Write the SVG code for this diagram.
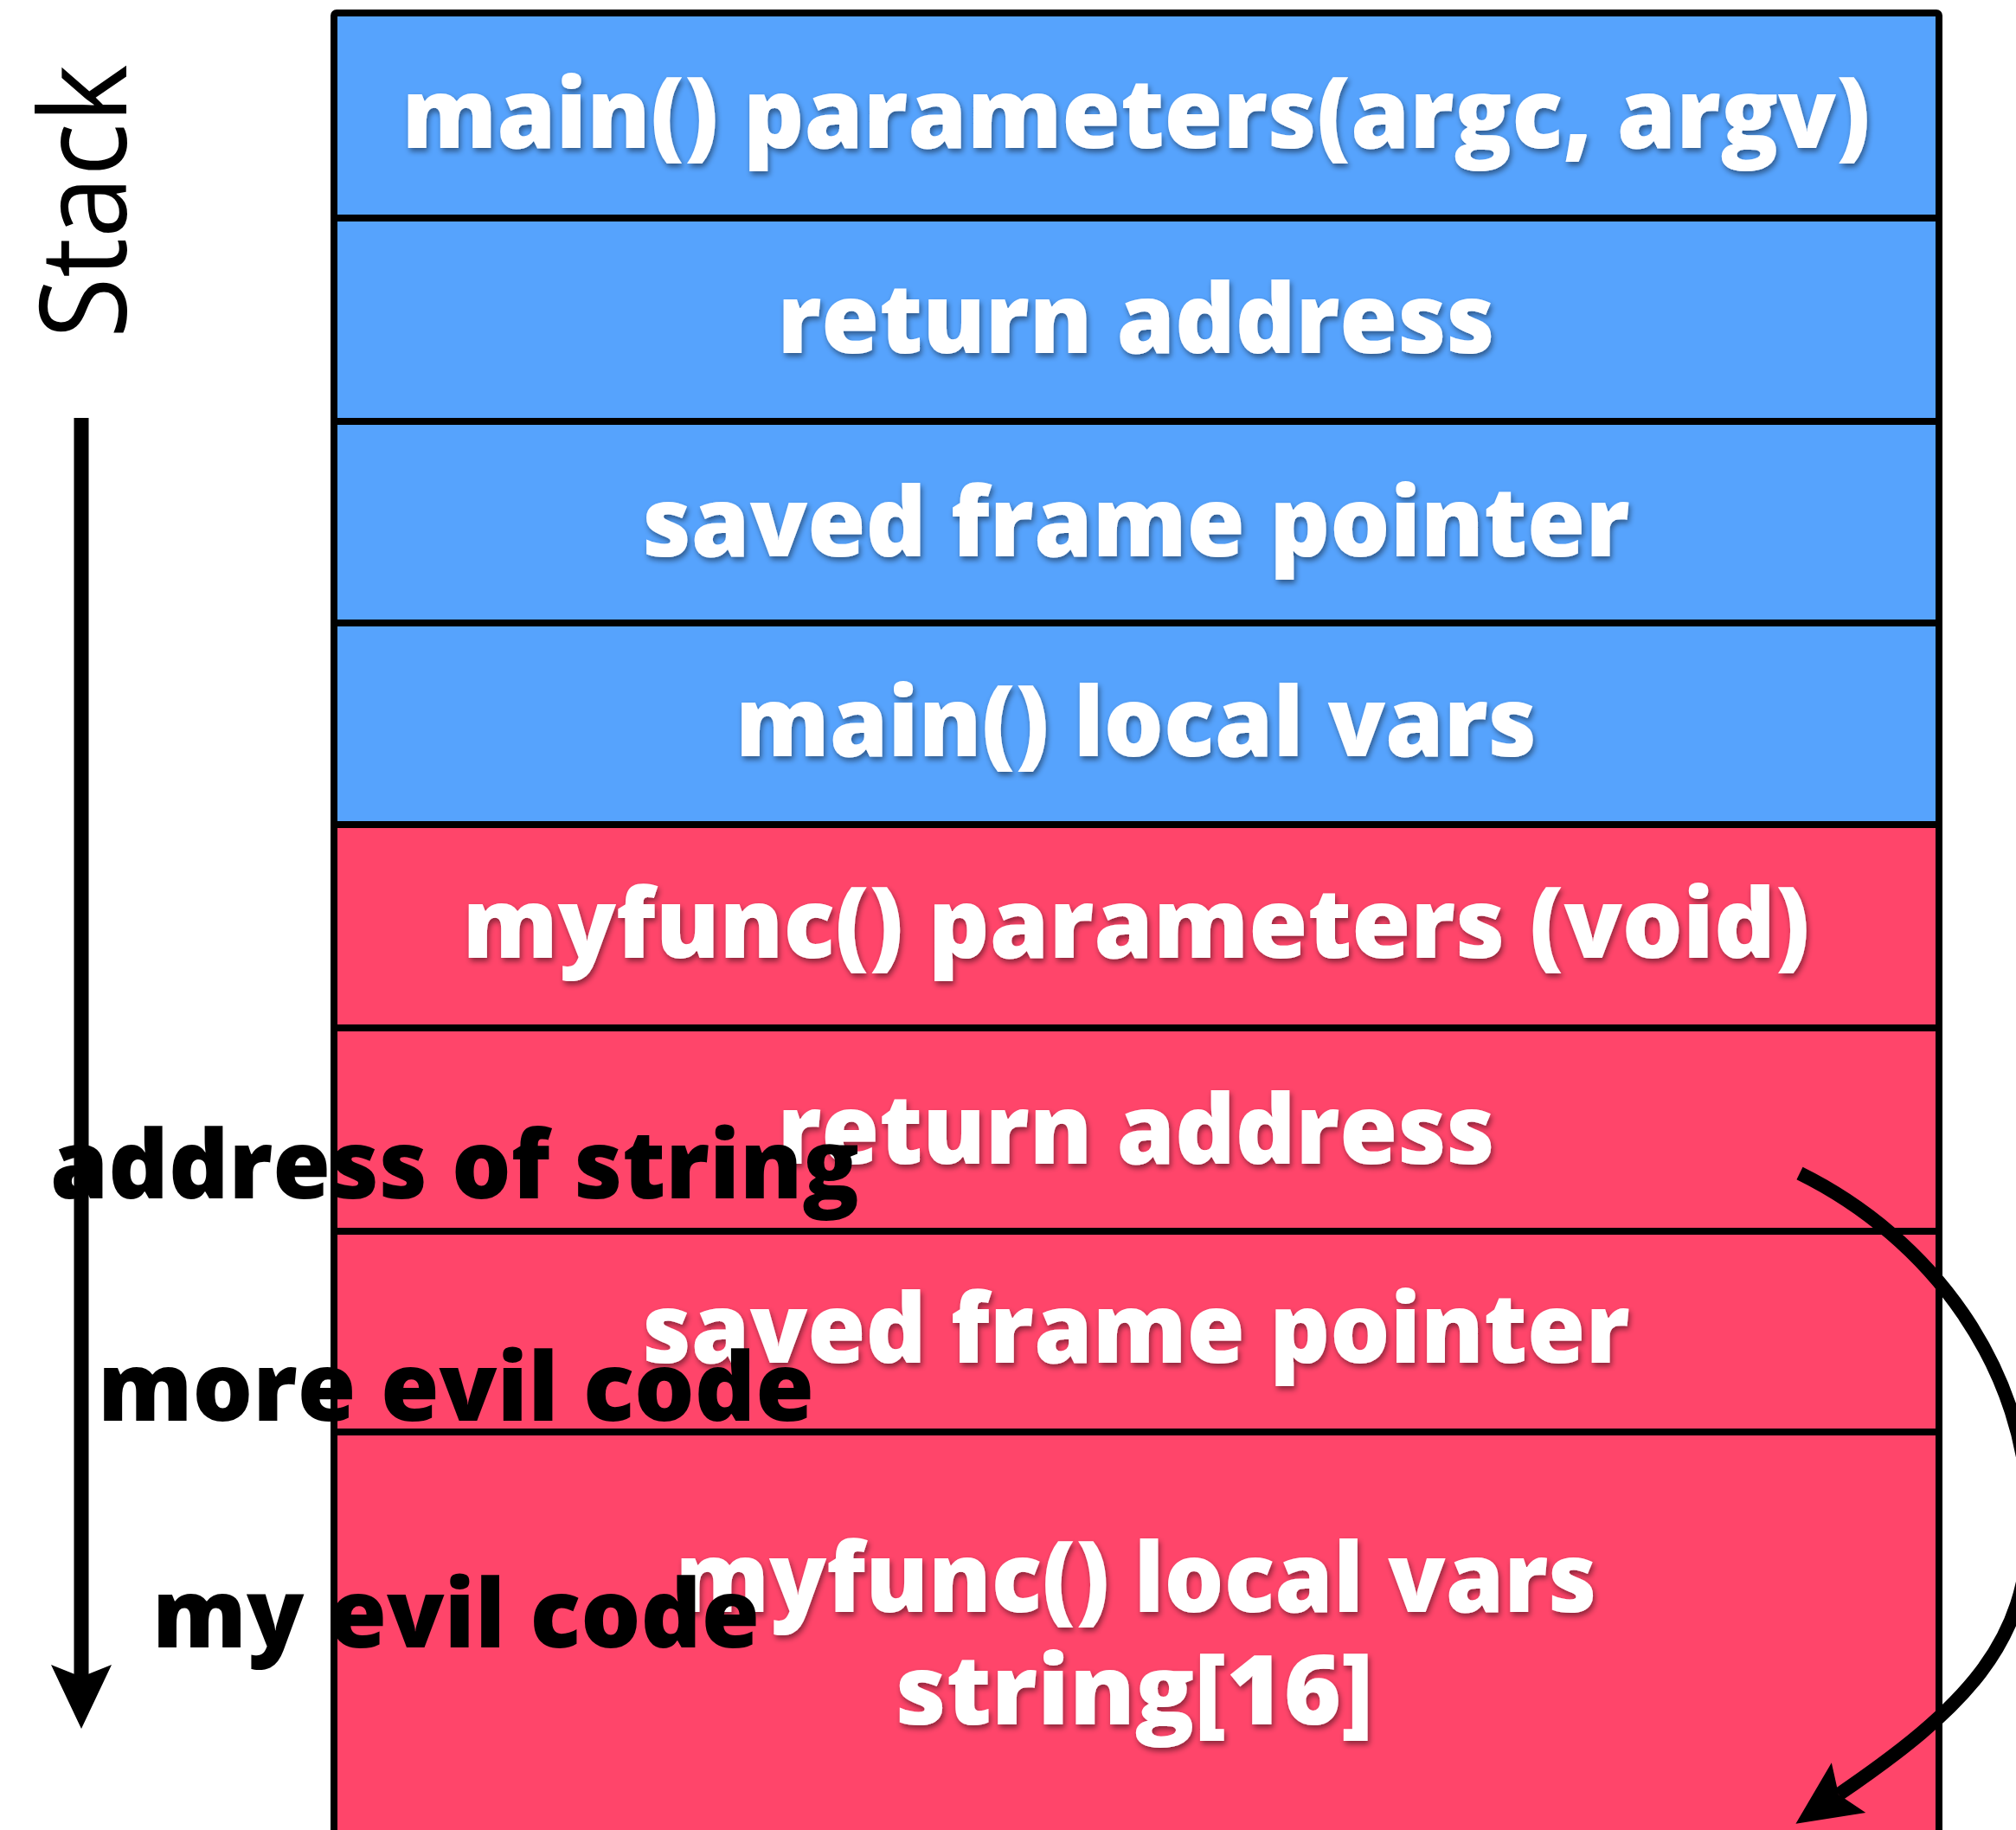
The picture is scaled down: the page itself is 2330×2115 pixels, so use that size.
<svg xmlns="http://www.w3.org/2000/svg" width="2330" height="2115" viewBox="0 0 2330 2115">
  <style>
    .blue { fill: #56A3FD; stroke: #000; stroke-width: 8; }
    .red { fill: #FF456A; stroke: #000; stroke-width: 8; }
    .lbl { font-family: "Open Sans", "Liberation Sans", sans-serif; font-weight: 800; font-size: 112px; fill: #fff; text-anchor: middle; filter: url(#shadow); }
    .evil { font-family: "Open Sans", "Liberation Sans", sans-serif; font-weight: 800; font-size: 110px; fill: #000; }
    .axis { font-family: "Open Sans", "Liberation Sans", sans-serif; font-weight: 400; font-size: 140px; fill: #000; text-anchor: middle; }
    .conn { fill: none; stroke: #000; }
  </style>
  <defs>
    <filter id="shadow" x="-5%" y="-20%" width="110%" height="150%">
      <feDropShadow dx="2" dy="4" stdDeviation="3" flood-color="#000" flood-opacity="0.45"/>
    </filter>
    <marker id="ah" markerUnits="userSpaceOnUse" viewBox="0 -40 80 80" refX="14" refY="0" markerWidth="80" markerHeight="80" orient="auto" overflow="visible">
      <path d="M0,-35 L74,0 L0,35 L14,0 Z" fill="#000"/>
    </marker>
  </defs>
  <rect width="2330" height="2115" fill="#fff"/>

  <g id="main-params">
    <rect class="blue" x="386" y="15" width="1855" height="237" rx="3"/>
    <text class="lbl" x="1313" y="171" textLength="1697" lengthAdjust="spacingAndGlyphs">main() parameters(argc, argv)</text>
  </g>
  <g id="main-ret">
    <rect class="blue" x="386" y="252" width="1855" height="235"/>
    <text class="lbl" x="1313" y="408" textLength="829" lengthAdjust="spacingAndGlyphs">return address</text>
  </g>
  <g id="main-sfp">
    <rect class="blue" x="386" y="487" width="1855" height="233"/>
    <text class="lbl" x="1313" y="643" textLength="1141" lengthAdjust="spacingAndGlyphs">saved frame pointer</text>
  </g>
  <g id="main-locals">
    <rect class="blue" x="386" y="720" width="1855" height="233"/>
    <text class="lbl" x="1313" y="874" textLength="926" lengthAdjust="spacingAndGlyphs">main() local vars</text>
  </g>
  <g id="myfunc-params">
    <rect class="red" x="386" y="953" width="1855" height="235"/>
    <text class="lbl" x="1313" y="1107" textLength="1557" lengthAdjust="spacingAndGlyphs">myfunc() parameters (void)</text>
  </g>
  <g id="myfunc-ret">
    <rect class="red" x="386" y="1188" width="1855" height="235"/>
    <text class="lbl" x="1313" y="1345" textLength="829" lengthAdjust="spacingAndGlyphs">return address</text>
  </g>
  <g id="myfunc-sfp">
    <rect class="red" x="386" y="1423" width="1855" height="232"/>
    <text class="lbl" x="1313" y="1575" textLength="1141" lengthAdjust="spacingAndGlyphs">saved frame pointer</text>
  </g>
  <g id="myfunc-locals">
    <rect class="red" x="386" y="1655" width="1855" height="560"/>
    <text class="lbl" x="1313" y="1863" textLength="1065" lengthAdjust="spacingAndGlyphs">myfunc() local vars</text>
    <text class="lbl" x="1311" y="1993" textLength="552" lengthAdjust="spacingAndGlyphs">string[16]</text>
  </g>

  <g id="stack-label">
    <text class="axis" transform="translate(146,233) rotate(-90)" x="0" y="0" textLength="316" lengthAdjust="spacingAndGlyphs">Stack</text>
  </g>

  <g id="connectors">
    <line class="conn" x1="94" y1="483" x2="94" y2="1938" stroke-width="17" marker-end="url(#ah)"/>
    <path class="conn" d="M2080,1356 C2230,1430 2345,1580 2345,1760 C2345,1900 2270,1975 2125,2074" stroke-width="16" marker-end="url(#ah)"/>
  </g>

  <g id="evil-labels">
    <text class="evil" x="58" y="1385" textLength="935" lengthAdjust="spacingAndGlyphs">address of string</text>
    <text class="evil" x="113" y="1642" textLength="828" lengthAdjust="spacingAndGlyphs">more evil code</text>
    <text class="evil" x="176" y="1904" textLength="702" lengthAdjust="spacingAndGlyphs">my evil code</text>
  </g>
</svg>
